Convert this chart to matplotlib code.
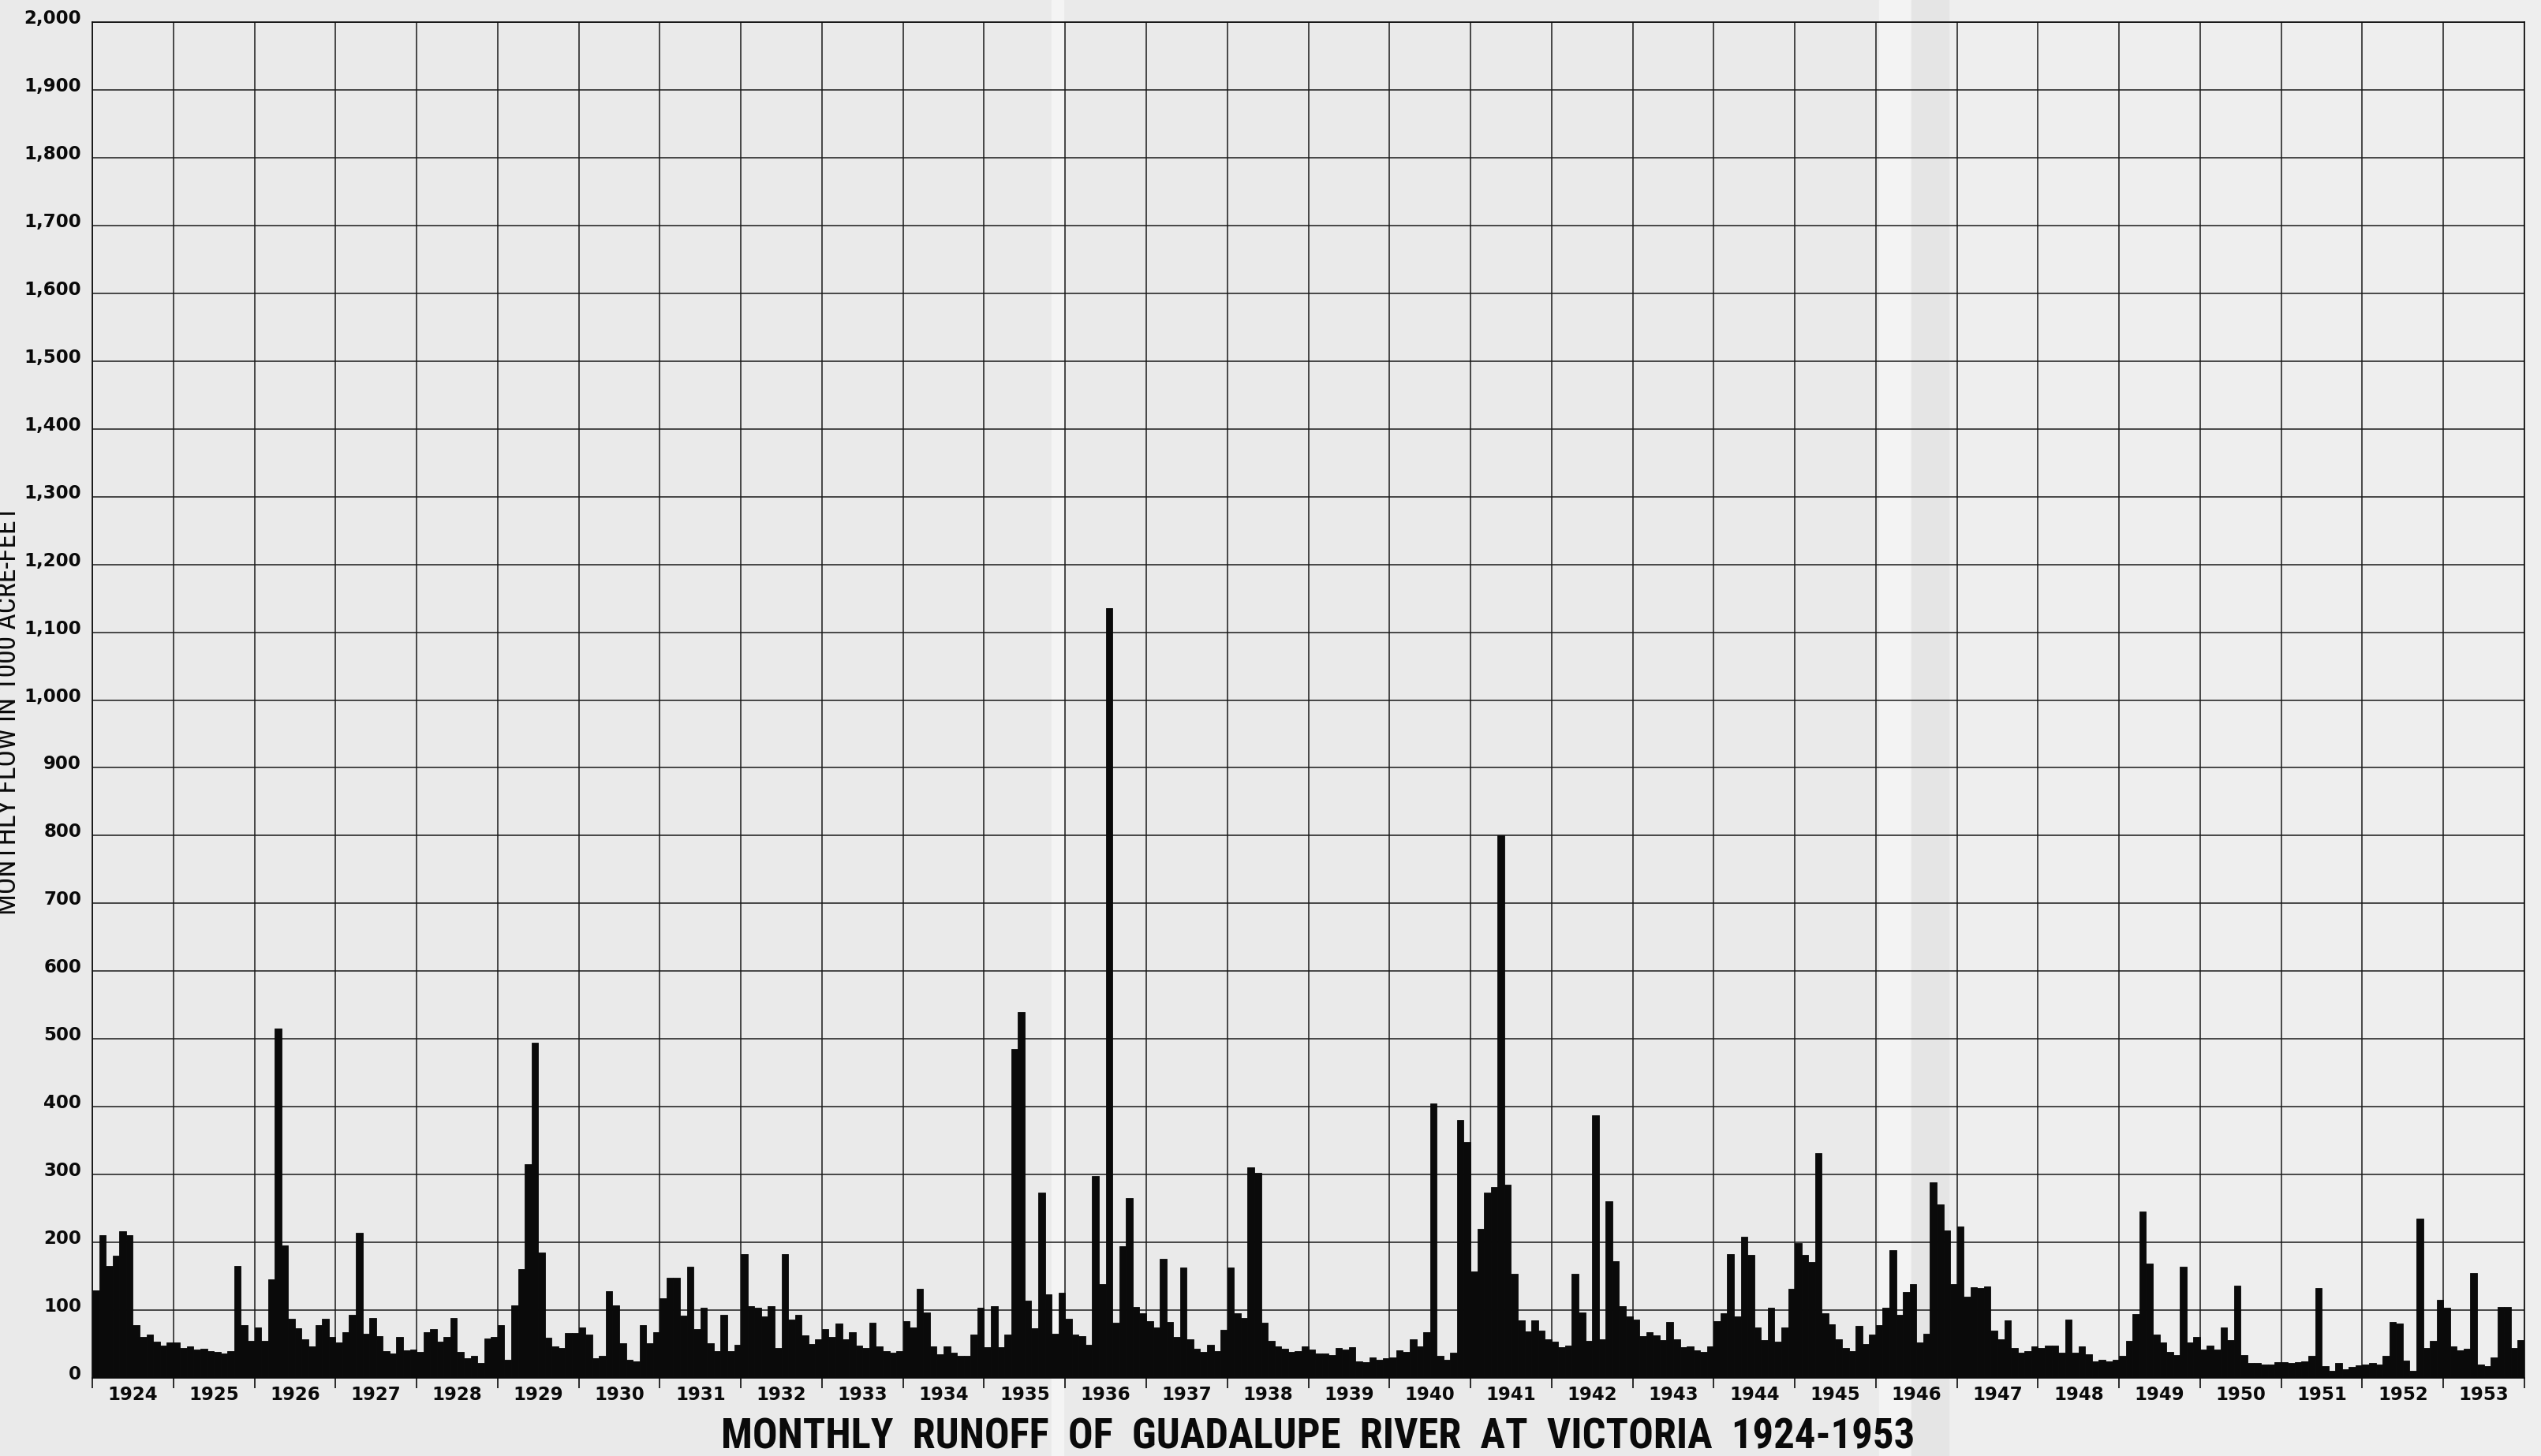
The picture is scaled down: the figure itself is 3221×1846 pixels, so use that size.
"""
Monthly runoff of Guadalupe River at Victoria, 1924-1953
(redrawn from a scanned hydrograph sheet)
"""

import numpy as np
import matplotlib
matplotlib.use("Agg")
import matplotlib.pyplot as plt
from matplotlib import font_manager
from matplotlib.patches import Rectangle
from matplotlib.transforms import ScaledTranslation


# ============================================================
# 0. data (1000 acre-feet per month)
# ============================================================
YEARS = list(range(1924, 1954))

flow_1924 = [129, 211, 165, 180, 216, 211, 78, 61, 64, 53, 48, 52]
flow_1925 = [52, 44, 46, 42, 43, 40, 38, 36, 39, 165, 78, 55]
flow_1926 = [75, 55, 145, 515, 196, 87, 73, 57, 47, 78, 87, 61]
flow_1927 = [52, 68, 93, 214, 65, 88, 62, 39, 36, 60, 41, 42]
flow_1928 = [38, 68, 72, 53, 60, 89, 38, 29, 33, 22, 58, 61]
flow_1929 = [78, 27, 107, 161, 315, 495, 185, 59, 46, 44, 66, 66]
flow_1930 = [74, 64, 29, 32, 128, 107, 51, 27, 25, 78, 51, 67]
flow_1931 = [118, 148, 148, 92, 164, 72, 103, 51, 40, 93, 40, 49]
flow_1932 = [183, 106, 104, 91, 106, 44, 183, 86, 93, 63, 50, 57]
flow_1933 = [72, 60, 80, 57, 68, 48, 44, 81, 47, 39, 37, 39]
flow_1934 = [84, 75, 131, 97, 47, 35, 46, 37, 32, 33, 64, 103]
flow_1935 = [45, 106, 45, 64, 485, 540, 114, 73, 273, 123, 65, 126]
flow_1936 = [87, 64, 62, 49, 298, 138, 1135, 82, 194, 265, 105, 95]
flow_1937 = [84, 75, 176, 83, 61, 163, 57, 43, 38, 49, 40, 71]
flow_1938 = [163, 95, 89, 311, 302, 82, 55, 47, 43, 38, 40, 47]
flow_1939 = [42, 36, 36, 34, 44, 42, 45, 25, 23, 30, 27, 29]
flow_1940 = [30, 41, 38, 57, 47, 68, 405, 33, 27, 37, 381, 348]
flow_1941 = [157, 220, 273, 281, 800, 285, 153, 85, 69, 85, 70, 57]
flow_1942 = [53, 45, 48, 154, 97, 55, 388, 57, 261, 172, 106, 91]
flow_1943 = [86, 62, 68, 63, 56, 83, 57, 45, 46, 41, 38, 47]
flow_1944 = [84, 95, 183, 91, 208, 182, 74, 56, 104, 54, 74, 131]
flow_1945 = [199, 182, 171, 332, 95, 79, 57, 44, 39, 77, 50, 64]
flow_1946 = [78, 104, 189, 93, 127, 139, 52, 65, 288, 256, 218, 138]
flow_1947 = [223, 120, 134, 133, 135, 70, 57, 85, 44, 37, 39, 47]
flow_1948 = [44, 48, 48, 37, 86, 37, 46, 35, 25, 27, 25, 27]
flow_1949 = [32, 55, 94, 245, 169, 64, 52, 38, 34, 164, 52, 61]
flow_1950 = [42, 48, 42, 75, 56, 136, 34, 22, 22, 20, 20, 23]
flow_1951 = [23, 22, 23, 25, 32, 133, 18, 11, 22, 13, 16, 19]
flow_1952 = [20, 22, 20, 33, 83, 80, 26, 11, 235, 44, 55, 115]
flow_1953 = [103, 46, 41, 43, 155, 20, 18, 30, 105, 105, 44, 56]

Y_TICKS = list(range(0, 2001, 100))
Y_TICK_LABELS = [f"{v:,}" for v in Y_TICKS]

TITLE = "MONTHLY  RUNOFF  OF  GUADALUPE  RIVER  AT  VICTORIA  1924-1953"
Y_LABEL = "MONTHLY FLOW IN 1000 ACRE-FEET"


# ============================================================
# 1. look
# ============================================================
W_PX, H_PX = 3221, 1846
PAPER_LEFT = "#eaeaea"
PAPER_RIGHT = "#eeeeee"
INK = "#0a0a0a"


def pick_font(*names):
    installed = {f.name for f in font_manager.fontManager.ttflist}
    for n in names:
        if n in installed:
            return n
    return "DejaVu Sans"


NARROW = pick_font("Liberation Sans Narrow", "Roboto Condensed", "DejaVu Sans")


def paper_strip(fig, x0_px, x1_px, color, z):
    """vertical band of the scanned sheet (fold, shadow ...)"""
    fig.patches.append(Rectangle((x0_px / W_PX, 0), (x1_px - x0_px) / W_PX, 1,
                                 transform=fig.transFigure, color=color, zorder=z))


def main():
    flow = np.concatenate([
        flow_1924, flow_1925, flow_1926, flow_1927, flow_1928, flow_1929,
        flow_1930, flow_1931, flow_1932, flow_1933, flow_1934, flow_1935,
        flow_1936, flow_1937, flow_1938, flow_1939, flow_1940, flow_1941,
        flow_1942, flow_1943, flow_1944, flow_1945, flow_1946, flow_1947,
        flow_1948, flow_1949, flow_1950, flow_1951, flow_1952, flow_1953,
    ])
    n_months = len(flow)

    fig = plt.figure(figsize=(W_PX / 100, H_PX / 100), dpi=100, facecolor=PAPER_LEFT)

    # paper: two sheets, folds and a faint shadow
    paper_strip(fig, 2423, W_PX, PAPER_RIGHT, -10)
    paper_strip(fig, 1333, 1348, "#f4f4f4", -9)
    paper_strip(fig, 2382, 2423, "#f3f3f3", -9)
    paper_strip(fig, 2423, 2470, "#e5e5e5", -9)

    left, right = 117 / W_PX, 3200 / W_PX
    top, bottom = 1 - 28 / H_PX, 1 - 1747 / H_PX
    ax = fig.add_axes([left, bottom, right - left, top - bottom])
    ax.set_facecolor("none")

    ax.bar(np.arange(n_months), flow, width=1.0, align="edge",
           color=INK, edgecolor=INK, linewidth=0.6, zorder=3)

    ax.set_xlim(0, n_months)
    ax.set_ylim(0, 2000)

    # grid: one column per year, one row per 100
    ax.set_xticks(np.arange(0, n_months + 1, 12))
    ax.set_xticklabels([])
    ax.set_xticks(np.arange(6, n_months, 12), minor=True)
    ax.set_xticklabels([str(y) for y in YEARS], minor=True, fontweight="bold")
    ax.tick_params(axis="x", which="major", direction="out", length=9,
                   width=1.2, color=INK)
    ax.tick_params(axis="x", which="minor", length=0, pad=7, labelsize=16.5,
                   labelcolor=INK)

    ax.set_yticks(Y_TICKS)
    ax.set_yticklabels(Y_TICK_LABELS, fontweight="bold")
    ax.tick_params(axis="y", length=0, pad=10, labelsize=16.5, labelcolor=INK)
    # the lettering sits a little above its grid line on the sheet
    lift = ScaledTranslation(0, 7 / 100, fig.dpi_scale_trans)
    for lab in ax.get_yticklabels():
        lab.set_transform(lab.get_transform() + lift)

    ax.grid(True, which="major", color="#1a1a1a", linewidth=1.1, zorder=1)
    ax.set_axisbelow(True)
    for side in ax.spines.values():
        side.set_color(INK)
        side.set_linewidth(1.2)

    # title and axis label in a narrow lettering
    title = fig.text(0.5186, 1 - 1822 / H_PX, TITLE, ha="center", va="center",
                     fontsize=30, fontweight="bold", family=NARROW,
                     fontstretch="condensed", color=INK)
    ylab = fig.text(11 / W_PX, 1 - 900 / H_PX, Y_LABEL, rotation=90,
                    ha="center", va="center", fontsize=20, family=NARROW,
                    fontstretch="condensed", color=INK)

    # fit text lengths to the sheet
    fig.canvas.draw()
    r = fig.canvas.get_renderer()
    bb = title.get_window_extent(r)
    title.set_fontsize(title.get_fontsize() * 1513 / bb.width)
    bb = ylab.get_window_extent(r)
    ylab.set_fontsize(ylab.get_fontsize() * 518 / bb.height)

    fig.savefig("out.png", dpi=100, facecolor=fig.get_facecolor())
    plt.close(fig)


if __name__ == "__main__":
    main()
